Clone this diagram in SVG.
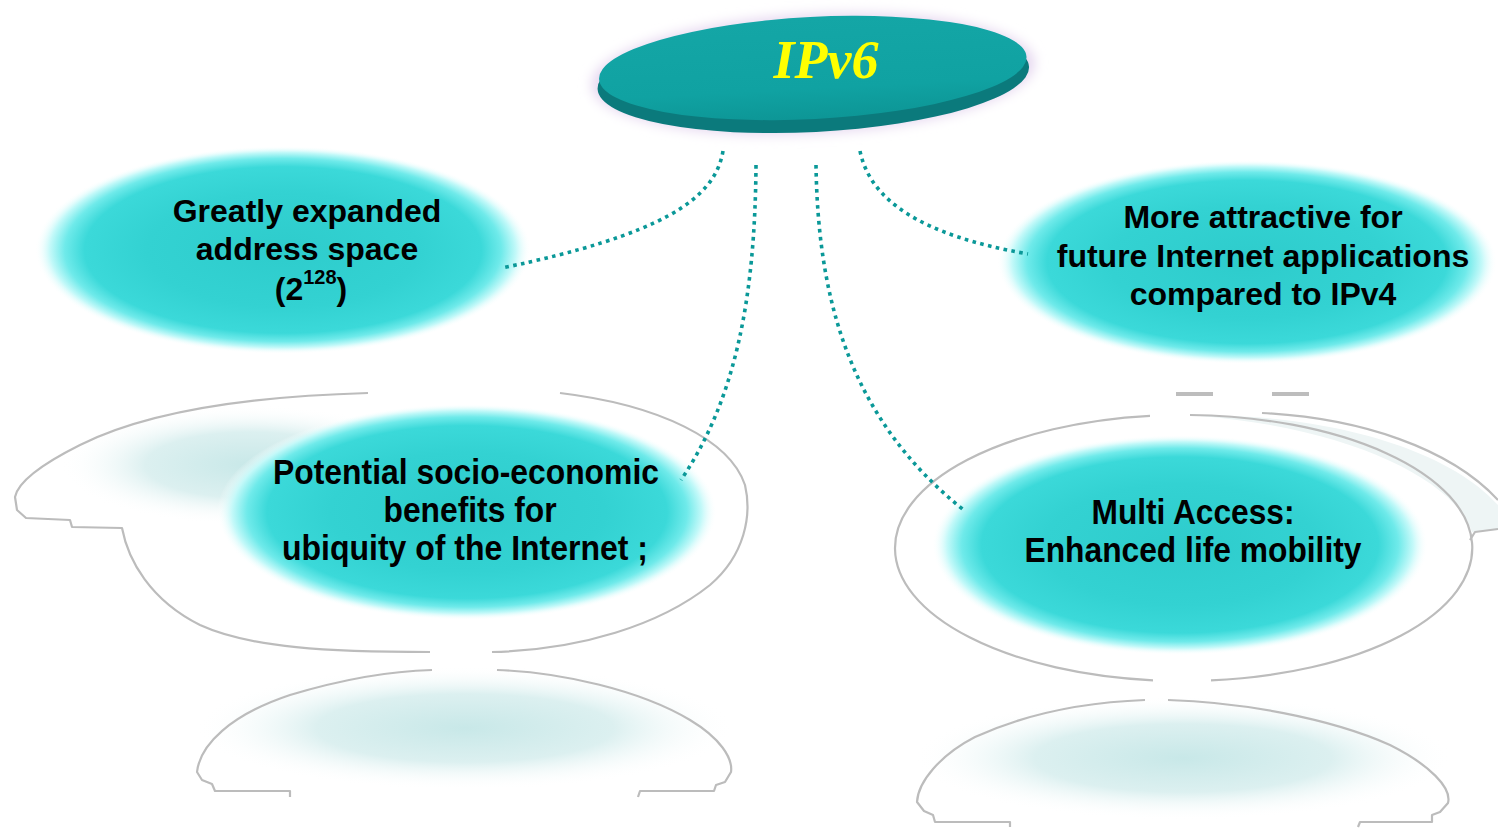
<svg xmlns="http://www.w3.org/2000/svg" width="1498" height="828" viewBox="0 0 1498 828">
<defs>
<style>
.lbl{font-family:"Liberation Sans",Arial,sans-serif;font-weight:bold;fill:#000;text-anchor:middle}
.top{font-size:32px}
.mid{font-size:35px}
.outline{fill:none;stroke:#bcbcbc;stroke-width:2.2;stroke-linejoin:round}
.conn{fill:none;stroke:#0a9898;stroke-width:3.6;stroke-dasharray:3.6 4.4}
</style>
<radialGradient id="blob" cx="0.5" cy="0.5" r="0.5">
<stop offset="0" stop-color="#2ecccc"/>
<stop offset="0.55" stop-color="#33d2d2"/>
<stop offset="0.8" stop-color="#3bd9d9"/>
<stop offset="0.88" stop-color="#6feaea"/>
<stop offset="0.94" stop-color="#c4f9f9"/>
<stop offset="1" stop-color="#ffffff" stop-opacity="0"/>
</radialGradient>
<radialGradient id="faint" cx="0.5" cy="0.5" r="0.5">
<stop offset="0" stop-color="#c8e8e8"/>
<stop offset="0.55" stop-color="#dcf0f0"/>
<stop offset="1" stop-color="#ffffff" stop-opacity="0"/>
</radialGradient>
<linearGradient id="face" x1="0" y1="0" x2="0" y2="1">
<stop offset="0" stop-color="#14a6a6"/>
<stop offset="0.7" stop-color="#10a2a2"/>
<stop offset="1" stop-color="#0d9696"/>
</linearGradient>
<filter id="glow" x="-20%" y="-50%" width="140%" height="200%"><feGaussianBlur stdDeviation="6"/></filter>
</defs>
<rect width="1498" height="828" fill="#ffffff"/>

<g id="background-shapes">
<ellipse cx="250" cy="465" rx="190" ry="60" fill="url(#faint)"/>
<path class="outline" d="M368,393 C260,396 150,410 80,445 C40,465 18,482 15,497 L17,510 L26,518 L70,520 L72,527 L122,528 C128,560 150,600 200,625 C250,648 330,652 430,652"/>
<path class="outline" d="M492,652 C580,650 660,625 710,585 C745,555 752,515 745,485 C730,440 660,405 560,393"/>
<ellipse cx="465" cy="728" rx="270" ry="62" fill="url(#faint)"/>
<path class="outline" d="M290,797 L290,791 L215,791 L212,784 L202,780 L197,772 C200,745 230,715 290,695 C340,680 390,671 432,670"/>
<path class="outline" d="M497,670 C560,672 640,690 690,720 C720,738 733,758 731,772 L725,782 L716,785 L714,791 L640,791 L638,797"/>
<path d="M1200,416 C1300,413 1440,440 1498,505 L1498,530 L1472,532 C1455,480 1350,428 1200,416 Z" fill="#eef5f5"/>
<path class="outline" d="M1262,413 C1360,418 1450,448 1498,500"/>
<path class="outline" d="M1470,540 L1475,532 L1498,529"/>
<path class="outline" d="M1190,415 A288,133 0 0 1 1211,680.4"/>
<path class="outline" d="M1153,680.3 A288,133 0 0 1 1150,415.9"/>
<rect x="1176" y="392" width="37" height="4" fill="#bdbdbd"/>
<rect x="1272" y="392" width="37" height="4" fill="#bdbdbd"/>
<ellipse cx="1183" cy="758" rx="270" ry="62" fill="url(#faint)"/>
<path class="outline" d="M1010,827 L1010,822 L935,822 L933,815 L924,811 L917,802 C918,782 940,755 975,737 C1030,712 1090,702 1145,700"/>
<path class="outline" d="M1168,700 C1240,702 1330,718 1390,745 C1430,765 1452,788 1448,803 L1440,812 L1432,815 L1432,822 L1360,822 L1358,827"/>
</g>

<g id="node-ipv6">
<g transform="rotate(-3 813 72)">
<ellipse cx="813" cy="74" rx="222" ry="60" fill="#e6d8f0" filter="url(#glow)"/>
<ellipse cx="813" cy="78" rx="216" ry="54" fill="#0b7a7c"/>
<ellipse cx="813" cy="68" rx="214" ry="51" fill="url(#face)"/>
</g>
<text x="826" y="78" font-family="'Liberation Serif','Times New Roman',serif" font-size="54" font-weight="bold" font-style="italic" fill="#ffff00" text-anchor="middle">IPv6</text>
</g>

<g id="node-address-space">
<ellipse cx="283" cy="250" rx="248" ry="104" fill="url(#blob)"/>
<text class="lbl top" x="307" y="222">Greatly expanded</text>
<text class="lbl top" x="307" y="260">address space</text>
<text class="lbl top" x="311" y="300">(2<tspan font-size="20" dy="-16">128</tspan><tspan dy="16">)</tspan></text>
</g>

<g id="node-future-apps">
<ellipse cx="1247" cy="262" rx="250" ry="102" fill="url(#blob)"/>
<text class="lbl top" x="1263" y="228">More attractive for</text>
<text class="lbl top" x="1263" y="267">future Internet applications</text>
<text class="lbl top" x="1263" y="305">compared to IPv4</text>
</g>

<g id="node-socio-economic">
<ellipse cx="467" cy="512" rx="250" ry="108" fill="url(#blob)"/>
<text class="lbl mid" x="466" y="484" textLength="386" lengthAdjust="spacingAndGlyphs">Potential socio-economic</text>
<text class="lbl mid" x="470" y="522" textLength="173" lengthAdjust="spacingAndGlyphs">benefits for</text>
<text class="lbl mid" x="465" y="560" textLength="366" lengthAdjust="spacingAndGlyphs">ubiquity of the Internet ;</text>
</g>

<g id="node-multi-access">
<ellipse cx="1180" cy="545" rx="248" ry="110" fill="url(#blob)"/>
<text class="lbl mid" x="1193" y="524" textLength="203" lengthAdjust="spacingAndGlyphs">Multi Access:</text>
<text class="lbl mid" x="1193" y="562" textLength="337" lengthAdjust="spacingAndGlyphs">Enhanced life mobility</text>
</g>

<g id="connectors">
<path class="conn" d="M723,151 C715,200 660,235 502,268"/>
<path class="conn" d="M756,165 C755,300 735,400 681,480"/>
<path class="conn" d="M816,165 C818,300 850,420 965,511"/>
<path class="conn" d="M860,151 C870,200 920,235 1028,254"/>
</g>
</svg>
